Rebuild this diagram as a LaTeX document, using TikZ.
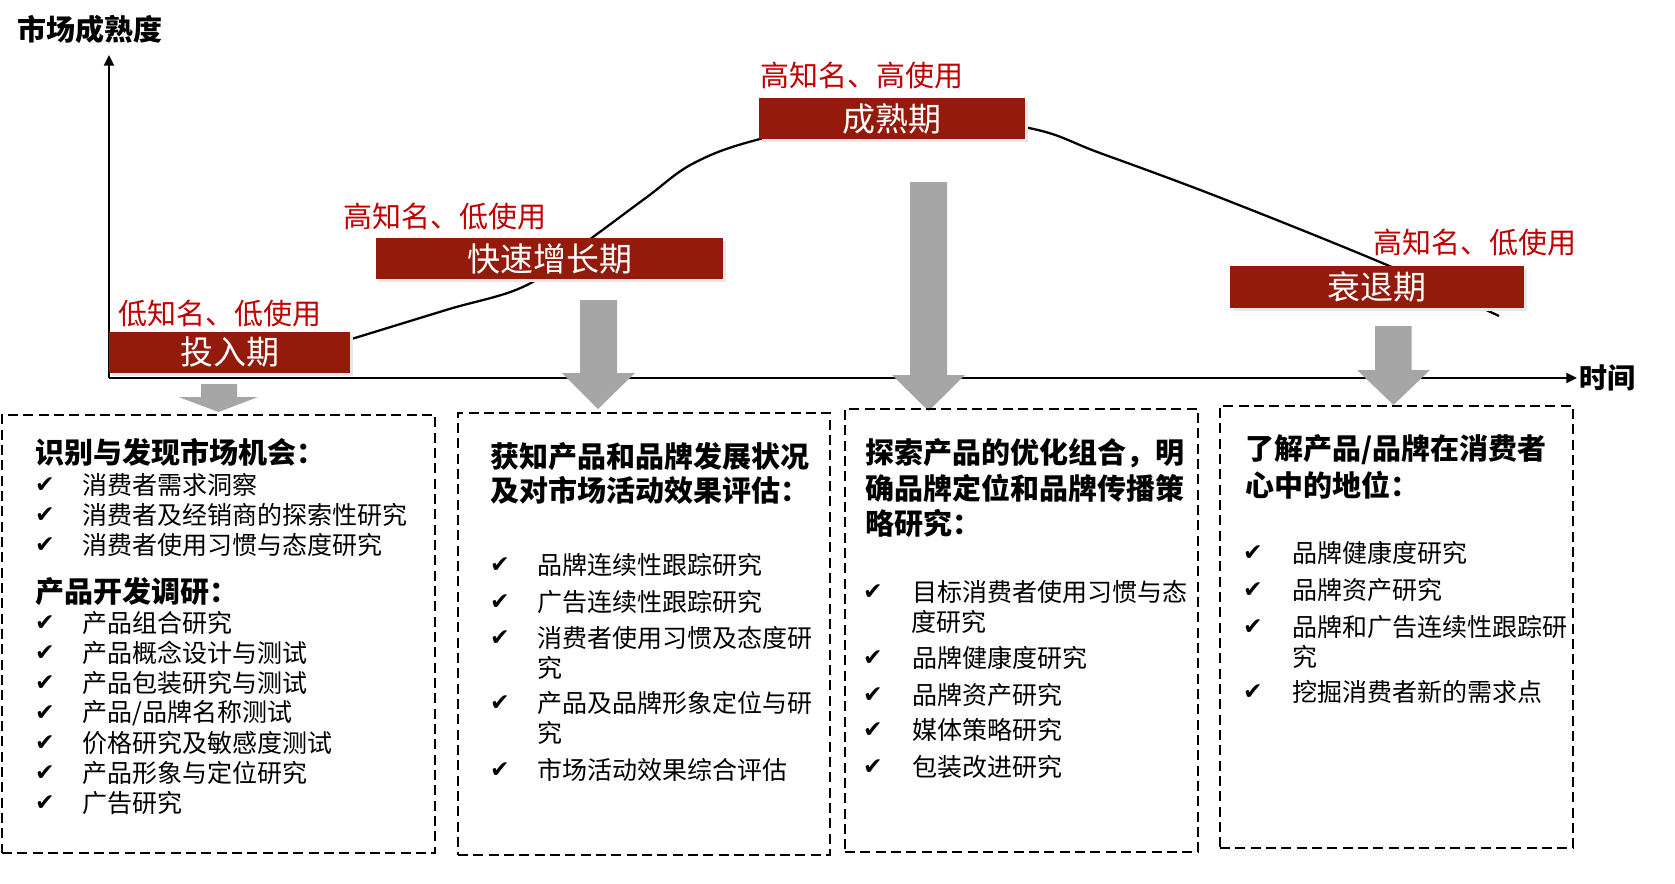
\documentclass[tikz,border=0pt]{standalone}
\usepackage{fontspec}
\setmainfont{Noto Sans CJK SC}
\newfontfamily\symfont{DejaVu Sans}
\usetikzlibrary{arrows.meta,shadows}
\definecolor{boxred}{HTML}{941B0C}
\definecolor{lblred}{HTML}{C00000}
\definecolor{arrgray}{HTML}{A6A6A6}
\newcommand\myitem[5]{%
  \node[chk] (c#1) at (#2,#4) {✔};
  \node[itm] (t#1) at (#3,#4) {#5};}
\begin{document}
\begin{tikzpicture}[x=0.75pt,y=-0.75pt,
  axis/.style={line width=1.5pt,-{Triangle[length=8pt,width=7.5pt]}},
  curve/.style={line width=1.7pt},
  blockarrow/.style={fill=arrgray},
  stage/.style={fill=boxred,text=white,inner sep=0pt,
    font=\fontsize{24.75pt}{28pt}\selectfont,
    drop shadow={shadow xshift=2.5pt,shadow yshift=-2.5pt,fill=black!9,opacity=1}},
  lbl/.style={text=lblred,inner sep=0pt,font=\fontsize{21.75pt}{26pt}\selectfont},
  axlbl/.style={inner sep=0pt,font=\bfseries\fontsize{21.75pt}{26pt}\selectfont},
  panel/.style={draw,line width=1.4pt,dash pattern=on 7.5pt off 4pt,inner sep=0pt},
  head/.style={anchor=west,inner sep=0pt,font=\bfseries\fontsize{21.75pt}{26pt}\selectfont},
  itm/.style={anchor=west,inner sep=0pt,font=\fontsize{18.75pt}{22pt}\selectfont},
  chk/.style={inner sep=0pt,font=\symfont\fontsize{17.5pt}{20pt}\selectfont}]
\useasboundingbox (0,0) rectangle (1675,883);

% axes
\coordinate (o) at (109,378);
\coordinate (ytop) at (109,55);
\coordinate (xend) at (1577,378);
\draw[axis] (o) -- (ytop);
\draw[axis] (o) -- (xend);
\node[axlbl] (ytitle) at (90,29) {市场成熟度};
\node[axlbl,anchor=west,font=\bfseries\fontsize{21pt}{26pt}\selectfont] (xtitle) at (1579,378) {时间};

% curve
\draw[curve] plot[smooth,tension=0.6] coordinates {(345,341) (446,310) (527,285) (593,237) (647,197) (694,163) (760,139) (895,110) (1029,128) (1100,153) (1221,198) (1387,265) (1499,316)};

% block arrows
\fill[blockarrow] (201,384) -- (237,384) -- (237,397) -- (258,397) -- (218.6,412) -- (178.6,397) -- (201,397) -- cycle;
\fill[blockarrow] (580,300) -- (617,300) -- (617,373) -- (635,373) -- (598,409) -- (562,373) -- (580,373) -- cycle;
\fill[blockarrow] (910,182) -- (947,182) -- (947,375) -- (965,375) -- (928.6,411) -- (892,375) -- (910,375) -- cycle;
\fill[blockarrow] (1375,326) -- (1411.5,326) -- (1411.5,370) -- (1430,370) -- (1393.5,405) -- (1357,370) -- (1375,370) -- cycle;

% stage boxes
\node[stage,minimum width={241*0.75pt},minimum height={41*0.75pt}] (s1) at (229.5,352.5) {投入期};
\node[stage,minimum width={347*0.75pt},minimum height={41*0.75pt}] (s2) at (549.5,258.5) {快速增长期};
\node[stage,minimum width={266*0.75pt},minimum height={41*0.75pt}] (s3) at (892,118.5) {成熟期};
\node[stage,minimum width={294*0.75pt},minimum height={42*0.75pt}] (s4) at (1377,287) {衰退期};

% red labels
\node[lbl] (l1) at (220,313) {低知名、低使用};
\node[lbl] (l2) at (445,217) {高知名、低使用};
\node[lbl] (l3) at (862,76) {高知名、高使用};
\node[lbl] (l4) at (1475,243) {高知名、低使用};

% panels
\node[panel,minimum width={433*0.75pt},minimum height={438*0.75pt}] (p1) at (218.5,634) {};
\node[panel,minimum width={372*0.75pt},minimum height={442*0.75pt}] (p2) at (644,634) {};
\node[panel,minimum width={353*0.75pt},minimum height={443*0.75pt}] (p3) at (1021.5,630.5) {};
\node[panel,minimum width={353*0.75pt},minimum height={442*0.75pt}] (p4) at (1396.5,627) {};

% panel 1
\node[head] (h1a) at (35,452) {识别与发现市场机会：};
\myitem{1a}{45}{82}{485}{消费者需求洞察}
\myitem{1b}{45}{82}{515}{消费者及经销商的探索性研究}
\myitem{1c}{45}{82}{545}{消费者使用习惯与态度研究}
\node[head] (h1b) at (35,592) {产品开发调研：};
\myitem{1d}{45}{82}{623}{产品组合研究}
\myitem{1e}{45}{82}{653}{产品概念设计与测试}
\myitem{1f}{45}{82}{683}{产品包装研究与测试}
\myitem{1g}{45}{82}{713}{产品/品牌名称测试}
\myitem{1h}{45}{82}{743}{价格研究及敏感度测试}
\myitem{1i}{45}{82}{773}{产品形象与定位研究}
\myitem{1j}{45}{82}{803}{广告研究}

% panel 2
\node[head] (h2a) at (490,457) {获知产品和品牌发展状况};
\node[head] (h2b) at (490,490) {及对市场活动效果评估：};
\myitem{2a}{500}{537}{565}{品牌连续性跟踪研究}
\myitem{2b}{500}{537}{602}{广告连续性跟踪研究}
\myitem{2c}{500}{537}{638}{消费者使用习惯及态度研}
\node[itm] (t2c2) at (537,668) {究};
\myitem{2d}{500}{537}{703}{产品及品牌形象定位与研}
\node[itm] (t2d2) at (537,733) {究};
\myitem{2e}{500}{537}{770}{市场活动效果综合评估}

% panel 3
\node[head] (h3a) at (865,453) {探索产品的优化组合，明};
\node[head] (h3b) at (865,488) {确品牌定位和品牌传播策};
\node[head] (h3c) at (865,523) {略研究：};
\myitem{3a}{873}{912}{592}{目标消费者使用习惯与态}
\node[itm] (t3a2) at (911,622) {度研究};
\myitem{3b}{873}{912}{658}{品牌健康度研究}
\myitem{3c}{873}{912}{695}{品牌资产研究}
\myitem{3d}{873}{912}{730}{媒体策略研究}
\myitem{3e}{873}{912}{767}{包装改进研究}

% panel 4
\node[head] (h4a) at (1245,450) {了解产品/品牌在消费者};
\node[head] (h4b) at (1245,485) {心中的地位：};
\myitem{4a}{1253}{1292}{553}{品牌健康度研究}
\myitem{4b}{1253}{1292}{590}{品牌资产研究}
\myitem{4c}{1253}{1292}{627}{品牌和广告连续性跟踪研}
\node[itm] (t4c2) at (1292,657) {究};
\myitem{4d}{1253}{1292}{692}{挖掘消费者新的需求点}
\end{tikzpicture}
\end{document}
